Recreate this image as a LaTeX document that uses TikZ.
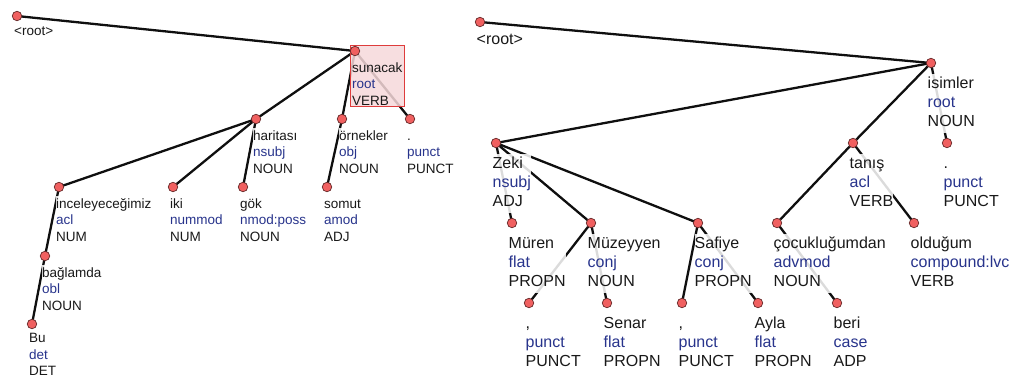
\documentclass[tikz,border=0pt]{standalone}
\usepackage{fontspec}
\setmainfont{Liberation Sans}
\definecolor{ink}{RGB}{25,25,25}
\definecolor{rel}{RGB}{40,52,140}
\definecolor{edgeink}{RGB}{15,15,15}
\definecolor{dotfill}{RGB}{240,96,96}
\definecolor{dotrim}{RGB}{100,40,40}
\definecolor{hlred}{RGB}{222,60,60}
\definecolor{hlfill}{RGB}{246,216,218}
% three-line token label: form / relation / part of speech
\newcommand\tk[3]{\strut#1\\\strut\textcolor{rel}{#2}\\\strut#3}

\begin{document}
\begin{tikzpicture}[x=1pt,y=-1pt,
  edge/.style={draw=edgeink, line width=2.3pt},
  dot/.style={circle, inner sep=0pt, minimum size=9.5pt, fill=dotfill, draw=dotrim, line width=0.7pt},
  tok/.style={anchor=north west, inner xsep=0pt, inner ysep=1pt, align=left, text=ink,
              fill=white, fill opacity=0.85, text opacity=1},
  tokL/.style={tok, font=\fontsize{13.5}{16.5}\selectfont, xshift=-3pt, yshift=-8.45pt},
  tokR/.style={tok, font=\fontsize{16}{19}\selectfont, xshift=-3.5pt, yshift=-10.7pt},
  hlbox/.style={anchor=north west, draw=hlred, line width=1.3pt, fill=hlfill, fill opacity=0.85,
                minimum width=54pt, minimum height=61pt, inner sep=0pt}
]
\useasboundingbox (0,0) rectangle (1021,378);

% ---------- left tree: word positions ----------
\coordinate (lroot)    at (17,16);
\coordinate (sunacak)  at (355,51);
\coordinate (haritasi) at (256,119);
\coordinate (ornekler) at (342,119);
\coordinate (lpunct)   at (410,119);
\coordinate (incel)    at (59,187);
\coordinate (iki)      at (173,187);
\coordinate (gok)      at (243,187);
\coordinate (somut)    at (327,187);
\coordinate (baglamda) at (45,256);
\coordinate (bu)       at (32,324);

% ---------- right tree: word positions ----------
\coordinate (rroot)    at (480,22);
\coordinate (isimler)  at (931,63);
\coordinate (zeki)     at (496,143);
\coordinate (tanis)    at (853,143);
\coordinate (rpunct)   at (947,143);
\coordinate (muren)    at (512,223);
\coordinate (muzeyyen) at (591,223);
\coordinate (safiye)   at (698,223);
\coordinate (cocuk)    at (777,223);
\coordinate (oldugum)  at (914,223);
\coordinate (comma1)   at (529,303);
\coordinate (senar)    at (607,303);
\coordinate (comma2)   at (682,303);
\coordinate (ayla)     at (758,303);
\coordinate (beri)     at (837,303);

% ---------- dependency arcs ----------
\draw[edge] (lroot) -- (sunacak);
\draw[edge] (sunacak) -- (haritasi);
\draw[edge] (sunacak) -- (ornekler);
\draw[edge] (sunacak) -- (lpunct);
\draw[edge] (haritasi) -- (incel);
\draw[edge] (haritasi) -- (iki);
\draw[edge] (haritasi) -- (gok);
\draw[edge] (ornekler) -- (somut);
\draw[edge] (incel) -- (baglamda);
\draw[edge] (baglamda) -- (bu);

\draw[edge] (rroot) -- (isimler);
\draw[edge] (isimler) -- (zeki);
\draw[edge] (isimler) -- (tanis);
\draw[edge] (isimler) -- (rpunct);
\draw[edge] (zeki) -- (muren);
\draw[edge] (zeki) -- (muzeyyen);
\draw[edge] (zeki) -- (safiye);
\draw[edge] (muzeyyen) -- (comma1);
\draw[edge] (muzeyyen) -- (senar);
\draw[edge] (safiye) -- (comma2);
\draw[edge] (safiye) -- (ayla);
\draw[edge] (tanis) -- (cocuk);
\draw[edge] (tanis) -- (oldugum);
\draw[edge] (cocuk) -- (beri);

% ---------- left tree: labels ----------
\node[tokL, yshift=2pt] (t-lroot) at (lroot) {\strut<root>};
\node[tokL] (t-haritasi) at (haritasi) {\tk{haritası}{nsubj}{NOUN}};
\node[tokL] (t-ornekler) at (ornekler) {\tk{örnekler}{obj}{NOUN}};
\node[tokL] (t-lpunct)   at (lpunct)   {\tk{.}{punct}{PUNCT}};
\node[tokL] (t-incel)    at (incel)    {\tk{inceleyeceğimiz}{acl}{NUM}};
\node[tokL] (t-iki)      at (iki)      {\tk{iki}{nummod}{NUM}};
\node[tokL] (t-gok)      at (gok)      {\tk{gök}{nmod:poss}{NOUN}};
\node[tokL] (t-somut)    at (somut)    {\tk{somut}{amod}{ADJ}};
\node[tokL] (t-baglamda) at (baglamda) {\tk{bağlamda}{obl}{NOUN}};
\node[tokL, yshift=2.5pt] (t-bu) at (bu) {\tk{Bu}{det}{DET}};

% highlighted root word
\node[hlbox] (hl) at (350,45) {};
\node[tokL, fill=none] (t-sunacak) at (sunacak) {\tk{sunacak}{root}{VERB}};

% ---------- right tree: labels ----------
\node[tokR, yshift=3pt] (t-rroot) at (rroot) {\strut<root>};
\node[tokR] (t-isimler)  at (isimler)  {\tk{isimler}{root}{NOUN}};
\node[tokR] (t-zeki)     at (zeki)     {\tk{Zeki}{nsubj}{ADJ}};
\node[tokR] (t-tanis)    at (tanis)    {\tk{tanış}{acl}{VERB}};
\node[tokR] (t-rpunct)   at (rpunct)   {\tk{.}{punct}{PUNCT}};
\node[tokR] (t-muren)    at (muren)    {\tk{Müren}{flat}{PROPN}};
\node[tokR] (t-muzeyyen) at (muzeyyen) {\tk{Müzeyyen}{conj}{NOUN}};
\node[tokR] (t-safiye)   at (safiye)   {\tk{Safiye}{conj}{PROPN}};
\node[tokR] (t-cocuk)    at (cocuk)    {\tk{çocukluğumdan}{advmod}{NOUN}};
\node[tokR] (t-oldugum)  at (oldugum)  {\tk{olduğum}{compound:lvc}{VERB}};
\node[tokR] (t-comma1)   at (comma1)   {\tk{,}{punct}{PUNCT}};
\node[tokR] (t-senar)    at (senar)    {\tk{Senar}{flat}{PROPN}};
\node[tokR] (t-comma2)   at (comma2)   {\tk{,}{punct}{PUNCT}};
\node[tokR] (t-ayla)     at (ayla)     {\tk{Ayla}{flat}{PROPN}};
\node[tokR] (t-beri)     at (beri)     {\tk{beri}{case}{ADP}};

% ---------- word dots ----------
\foreach \w in {lroot,sunacak,haritasi,ornekler,lpunct,incel,iki,gok,somut,baglamda,bu,
                rroot,isimler,zeki,tanis,rpunct,muren,muzeyyen,safiye,cocuk,oldugum,
                comma1,senar,comma2,ayla,beri}
  \node[dot] (d-\w) at (\w) {};
\end{tikzpicture}
\end{document}
